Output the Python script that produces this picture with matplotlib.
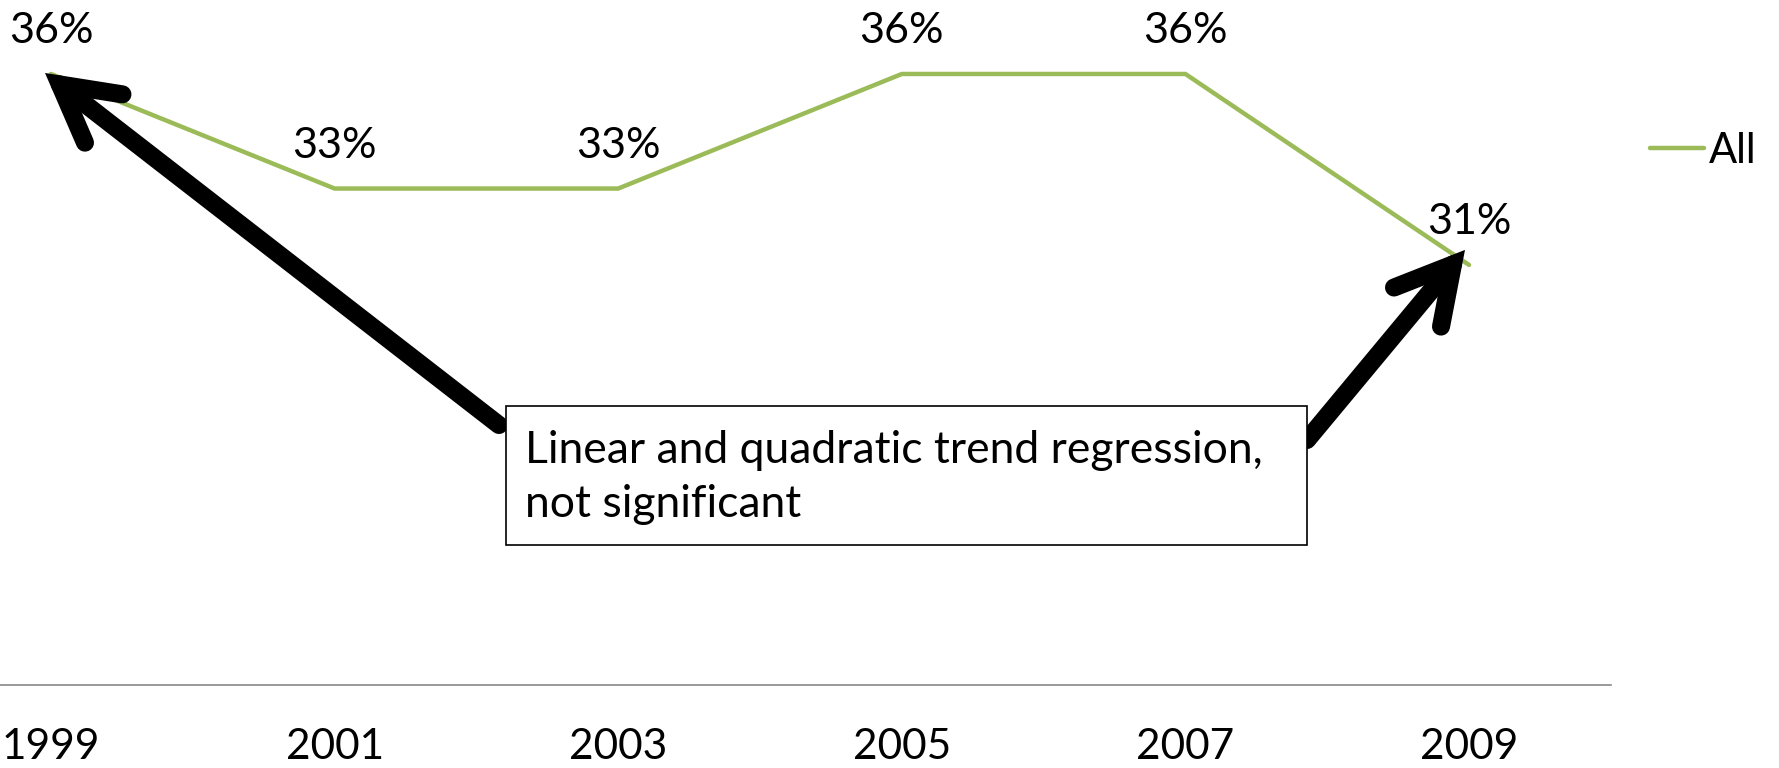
import matplotlib
matplotlib.use("Agg")
import matplotlib.pyplot as plt
from matplotlib.patches import Rectangle
from matplotlib.transforms import offset_copy

plt.rcParams['font.family'] = ['Lato', 'DejaVu Sans']

# Data
years = ['1999', '2001', '2003', '2005', '2007', '2009']
all_pct = [36, 33, 33, 36, 36, 31]
series_name = 'All'
note = 'Linear and quadratic trend regression,\nnot significant'

green = '#9BBB59'
W, H = 1779, 768

fig = plt.figure(figsize=(W / 100, H / 100), dpi=100)
# axes extends slightly past the left edge like the cropped original
ax = fig.add_axes([-90.8 / W, 1 - 685 / H, 1701.6 / W, 687.4 / H])

x = list(range(len(years)))
ax.plot(x, all_pct, color=green, lw=3.2, solid_capstyle='round',
        solid_joinstyle='miter', label=series_name, zorder=3)

for xi, v in zip(x, all_pct):
    ax.annotate(f'{v}%', (xi, v), xytext=(0, 43), textcoords='offset pixels',
                ha='center', va='center', fontsize=31, zorder=6)

ax.set_xlim(-0.5, len(years) - 0.5)
ax.set_ylim(20, 38)
ax.set_xticks(x)
ax.set_xticklabels(years, fontsize=30.5)
ax.tick_params(axis='x', length=0, pad=31)
ax.set_yticks([])
for s in ['top', 'right', 'left']:
    ax.spines[s].set_visible(False)
ax.spines['bottom'].set_color('#878787')
ax.spines['bottom'].set_linewidth(1.2)
ax.patch.set_alpha(0)

# legend on the right
fig.legend(loc='center left', bbox_to_anchor=(1650 / W, 1 - 151 / H),
           frameon=False, fontsize=30, handlelength=1.3, handletextpad=0.12,
           borderpad=0, borderaxespad=0)

# thick black arrows from the note box to first and last points
arrow_style = '->,head_length=40,head_width=22'
arrows = [((499, 425), 0, (-6, 1)), ((1307, 440), len(years) - 1, (-4, 15))]
for tail, idx, (dx, dy) in arrows:
    tip_tr = offset_copy(ax.transData, fig=fig, x=dx, y=dy, units='dots')
    ax.annotate('', xy=(x[idx], all_pct[idx]), xycoords=tip_tr,
                xytext=(tail[0], H - tail[1]), textcoords='figure pixels',
                arrowprops=dict(arrowstyle=arrow_style, color='black', lw=13,
                                mutation_scale=1, shrinkA=0, shrinkB=0,
                                capstyle='round', joinstyle='miter'),
                zorder=4, annotation_clip=False)

# note box
box = Rectangle((506 / W, 1 - 545 / H), 801 / W, 139 / H, transform=fig.transFigure,
                facecolor='white', edgecolor='black', lw=1.2, zorder=5)
fig.add_artist(box)
fig.text(525 / W, 1 - 477.5 / H, note, ha='left', va='center', fontsize=32,
         linespacing=1.42, zorder=6)

fig.savefig('out.png', dpi=100)
